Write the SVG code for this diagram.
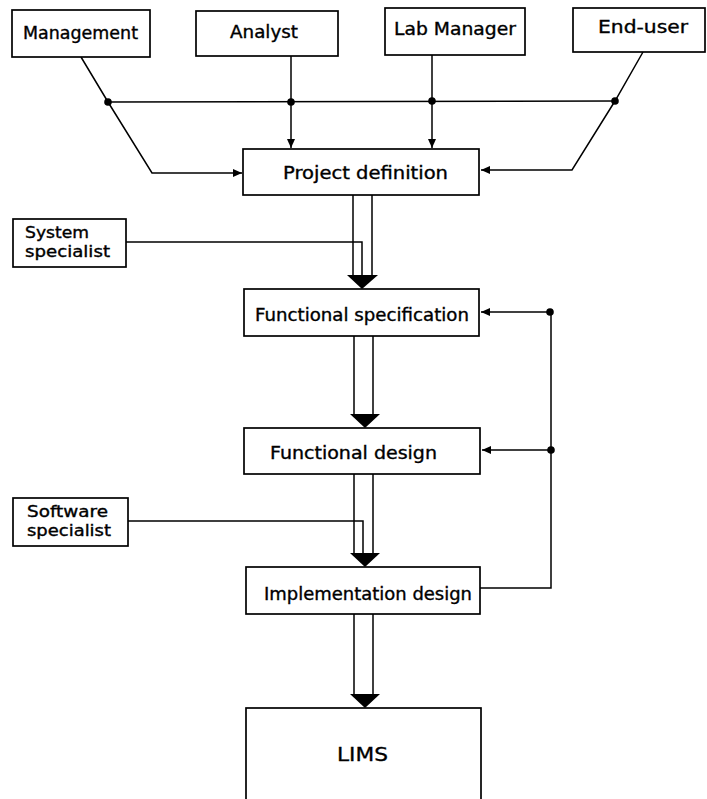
<svg xmlns="http://www.w3.org/2000/svg" width="707" height="799" viewBox="0 0 707 799">
<style>
.box{fill:#fff;stroke:#000;stroke-width:1.7}
.t{font-family:"DejaVu Sans","Liberation Sans",sans-serif;font-size:17px;fill:#000;stroke:#000;stroke-width:0.35}
.t2{font-size:15px}
.ln{fill:none;stroke:#000;stroke-width:1.5}
.dot{fill:#000}
.head{fill:#000}
</style>
<defs>
<marker id="arr" markerUnits="userSpaceOnUse" markerWidth="10" markerHeight="9" refX="9" refY="4" orient="auto">
<path d="M0,0 L9,4 L0,8 z" fill="#000"/>
</marker>
</defs>
<rect width="707" height="799" fill="#fff"/>
<g id="connectors">
<path class="ln" d="M81,57 L108,102 L152,173 L242,173" marker-end="url(#arr)"/>
<path class="ln" d="M108,102 L615,101"/>
<path class="ln" d="M291,56 L291,148" marker-end="url(#arr)"/>
<path class="ln" d="M432,55 L432,148" marker-end="url(#arr)"/>
<path class="ln" d="M643,52 L615,101 L572,170 L481,170" marker-end="url(#arr)"/>
<circle class="dot" cx="108" cy="102" r="3.8"/>
<circle class="dot" cx="291" cy="102" r="3.8"/>
<circle class="dot" cx="432" cy="101" r="3.8"/>
<circle class="dot" cx="615" cy="101" r="3.8"/>
<path class="ln" d="M353,195 L353,276 M372,195 L372,276"/>
<path class="ln" d="M126,242 L362,242 L362,278"/>
<path class="head" d="M347,275 L378,275 L362,289 z"/>
<path class="ln" d="M354,336 L354,415 M373,336 L373,415"/>
<path class="head" d="M350,414 L380,414 L365,428 z"/>
<path class="ln" d="M354,474 L354,554 M373,474 L373,554"/>
<path class="ln" d="M128,521 L363,521 L363,555"/>
<path class="head" d="M350,553 L380,553 L365,567 z"/>
<path class="ln" d="M354,614 L354,695 M373,614 L373,695"/>
<path class="head" d="M350,694 L380,694 L365,708 z"/>
<path class="ln" d="M480,588 L551,588 L551,312"/>
<path class="ln" d="M551,312 L481,312" marker-end="url(#arr)"/>
<path class="ln" d="M551,450 L482,450" marker-end="url(#arr)"/>
<circle class="dot" cx="550" cy="312" r="3.8"/>
<circle class="dot" cx="551" cy="450" r="3.8"/>
</g>
<g id="management"><rect class="box" x="12" y="10" width="138" height="47"/><text class="t" x="23" y="39" textLength="115" lengthAdjust="spacingAndGlyphs">Management</text></g>
<g id="analyst"><rect class="box" x="196" y="11" width="142" height="45"/><text class="t" x="230" y="38" textLength="68" lengthAdjust="spacingAndGlyphs">Analyst</text></g>
<g id="lab-manager"><rect class="box" x="385" y="8" width="140" height="47"/><text class="t" x="394" y="35" textLength="122" lengthAdjust="spacingAndGlyphs">Lab Manager</text></g>
<g id="end-user"><rect class="box" x="573" y="8" width="132" height="44"/><text class="t" x="598" y="33" textLength="90" lengthAdjust="spacingAndGlyphs">End-user</text></g>
<g id="project-definition"><rect class="box" x="243" y="149" width="236" height="46"/><text class="t" x="283" y="179" textLength="165" lengthAdjust="spacingAndGlyphs">Project definition</text></g>
<g id="system-specialist"><rect class="box" x="13" y="219" width="113" height="48"/><text class="t t2" x="25" y="238" textLength="64" lengthAdjust="spacingAndGlyphs">System</text><text class="t t2" x="25" y="257" textLength="85" lengthAdjust="spacingAndGlyphs">specialist</text></g>
<g id="functional-specification"><rect class="box" x="244" y="289" width="235" height="47"/><text class="t" x="255" y="321" textLength="214" lengthAdjust="spacingAndGlyphs">Functional specification</text></g>
<g id="functional-design"><rect class="box" x="244" y="428" width="236" height="46"/><text class="t" x="270" y="459" textLength="167" lengthAdjust="spacingAndGlyphs">Functional design</text></g>
<g id="software-specialist"><rect class="box" x="13" y="498" width="115" height="48"/><text class="t t2" x="27" y="517" textLength="81" lengthAdjust="spacingAndGlyphs">Software</text><text class="t t2" x="27" y="536" textLength="84" lengthAdjust="spacingAndGlyphs">specialist</text></g>
<g id="implementation-design"><rect class="box" x="246" y="567" width="234" height="47"/><text class="t" x="264" y="600" textLength="208" lengthAdjust="spacingAndGlyphs">Implementation design</text></g>
<g id="lims"><rect class="box" x="246" y="708" width="235" height="100"/><text class="t" x="337" y="761" style="font-size:20px" textLength="51" lengthAdjust="spacingAndGlyphs">LIMS</text></g>
</svg>
